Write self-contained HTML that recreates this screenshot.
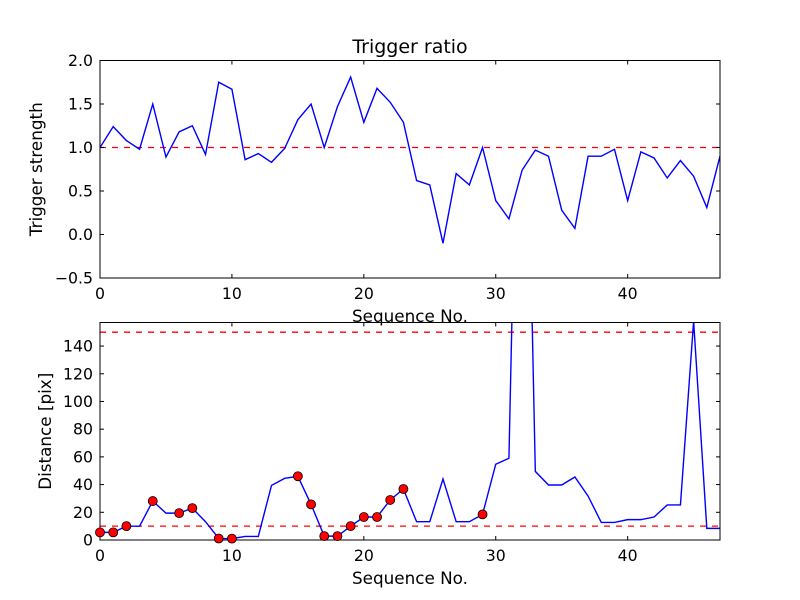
<!DOCTYPE html>
<html><head><meta charset="utf-8"><style>
body{margin:0;background:#fff}
svg{display:block;font-family:"DejaVu Sans","Liberation Sans",sans-serif}
</style></head><body>
<svg id="chart" width="800" height="600"></svg>
<script>
const xTicks=[0,10,20,30,40];
const topTicks=[-0.5,0.0,0.5,1.0,1.5,2.0];
const topTickLabels=["\u22120.5","0.0","0.5","1.0","1.5","2.0"];
const botTicks=[0,20,40,60,80,100,120,140];
const ratio=[1.0,1.24,1.08,0.98,1.5,0.89,1.18,1.25,0.92,1.75,1.67,0.86,0.93,0.83,0.99,1.32,1.5,1.0,1.47,1.81,1.29,1.68,1.52,1.29,0.62,0.57,-0.1,0.7,0.57,1.0,0.39,0.18,0.74,0.97,0.9,0.28,0.07,0.9,0.9,0.98,0.39,0.95,0.88,0.65,0.85,0.67,0.31,0.9];
const distance=[5.5,5.5,10,10,28.1,19.4,19.4,23,13.2,1.1,1,2.6,2.6,39.4,44.5,46,25.7,2.8,2.8,10,16.6,16.6,28.9,36.8,13.2,13.2,44,13.2,13.2,18.5,54.7,59,500,49.5,39.7,39.7,45.5,31.7,12.7,12.7,14.7,14.7,16.6,25.3,25.3,158,8.4,8.4];
const markerIdx=[0,1,2,4,6,7,9,10,15,16,17,18,19,20,21,22,23,29];
const ratioThreshold=1.0;
const distThresholds=[10,150];

const NS="http://www.w3.org/2000/svg";
const svg=document.getElementById('chart');
function el(tag,attrs,parent){const e=document.createElementNS(NS,tag);for(const k in attrs)e.setAttribute(k,attrs[k]);(parent||svg).appendChild(e);return e;}
function txt(x,y,s,size,anchor,parent,rot){const t=el('text',{x:x,y:y,'font-size':size,'text-anchor':anchor,fill:'#000'},parent);if(rot)t.setAttribute('transform',rot);t.textContent=s;return t;}

const X0=100,X1=720;
const xs=v=>X0+(v-0)/(47-0)*(X1-X0);
const T0=60.5,T1=278;
const ysT=v=>T1-(v+0.5)/2.5*(T1-T0);
const B0=322.5,B1=540;
const BMAX=157;
const ysB=v=>B1-v/BMAX*(B1-B0);

function axes(y0,y1,yticks,ylabels,yscale,name,ylabel){
  const g=el('g',{});
  
  
  xTicks.forEach(t=>{
    const x=xs(t);
    el('line',{x1:x,x2:x,y1:y1,y2:y1-4,stroke:'#000'},g);
    el('line',{x1:x,x2:x,y1:y0,y2:y0+4,stroke:'#000'},g);
    const l=txt(x,y1+21,String(t),15.7,'middle',g);
    
    
  });
  yticks.forEach((t,i)=>{
    const y=yscale(t);
    el('line',{x1:X0,x2:X0+4,y1:y,y2:y,stroke:'#000'},g);
    el('line',{x1:X1,x2:X1-4,y1:y,y2:y,stroke:'#000'},g);
    const l=txt(X0-7,y+5.5,ylabels[i],15.7,'end',g);
    
    
  });
  const yl=txt(0,0,ylabel,16.8,'middle',g,'translate('+(name==='top-axes'?42:51)+','+((y0+y1)/2)+') rotate(-90)');
  
  
  const xl=txt((X0+X1)/2,y1+44,'Sequence No.',16.8,'middle',g);
  
  
  return g;
}

const defs=el('defs',{});
const c1=el('clipPath',{id:'clipT'},defs);el('rect',{x:X0,y:T0,width:X1-X0,height:T1-T0},c1);
const c2=el('clipPath',{id:'clipB'},defs);el('rect',{x:X0,y:B0,width:X1-X0,height:B1-B0},c2);

const title=txt(410,53,'Trigger ratio',19,'middle');



const gT=el('g',{'clip-path':'url(#clipT)'});


const thr=el('line',{x1:X0,x2:X1,y1:ysT(ratioThreshold),y2:ysT(ratioThreshold),stroke:'#f00','stroke-dasharray':'6,6','stroke-width':1.3},gT);


const lT=el('polyline',{points:ratio.map((v,i)=>xs(i)+','+ysT(v)).join(' '),fill:'none',stroke:'#00f','stroke-width':1.4},gT);


axes(T0,T1,topTicks,topTickLabels,ysT,'top-axes','Trigger strength');
el('rect',{x:X0,y:T0,width:X1-X0,height:T1-T0,fill:'none',stroke:'#000'});

const gB=el('g',{'clip-path':'url(#clipB)'});


distThresholds.forEach(t=>{
  const l=el('line',{x1:X0,x2:X1,y1:ysB(t),y2:ysB(t),stroke:'#f00','stroke-dasharray':'6,6','stroke-width':1.3},gB);
  
  
});
const lB=el('polyline',{points:distance.map((v,i)=>xs(i)+','+ysB(v)).join(' '),fill:'none',stroke:'#00f','stroke-width':1.4},gB);


const gM=el('g',{});
markerIdx.forEach(i=>{
  const c=el('circle',{cx:xs(i),cy:ysB(distance[i]),r:4.5,fill:'#f00',stroke:'#000','stroke-width':0.8},gM);
  
  
});
axes(B0,B1,botTicks,botTicks.map(String),ysB,'bottom-axes','Distance [pix]');
el('rect',{x:X0,y:B0,width:X1-X0,height:B1-B0,fill:'none',stroke:'#000'});
svg.appendChild(gM);
</script>
</body></html>
